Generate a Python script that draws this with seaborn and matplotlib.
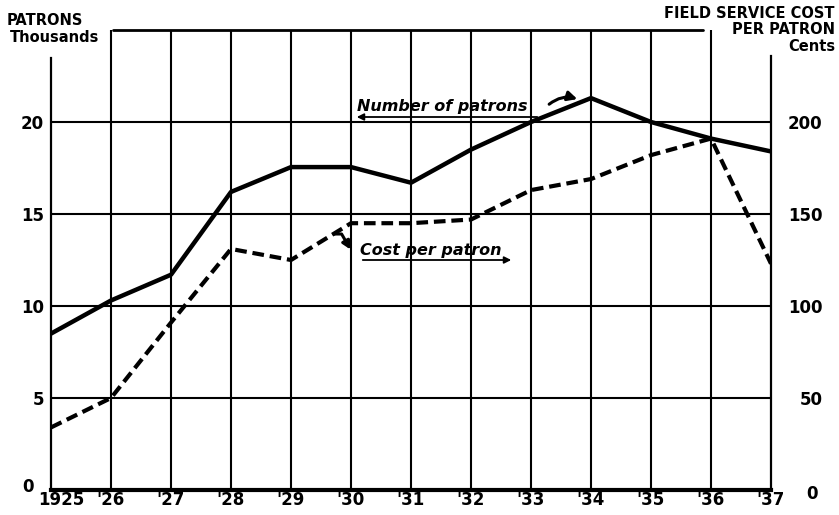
import matplotlib
matplotlib.use('Agg')
import matplotlib.pyplot as plt
import matplotlib.transforms as mtrans
import seaborn as sns
import pandas as pd

years = list(range(1925, 1938))
year_labels = ['1925', "'26", "'27", "'28", "'29", "'30", "'31", "'32", "'33", "'34", "'35", "'36", "'37"]
patrons = [8.5, 10.3, 11.7, 16.2, 17.55, 17.55, 16.7, 18.5, 20.0, 21.3, 20.0, 19.1, 18.4]
cost_cents = [34, 50, 91, 131, 125, 145, 145, 147, 163, 169, 182, 191, 123]
left_ticks = [0, 5, 10, 15, 20]
right_ticks = [0, 50, 100, 150, 200]

df = pd.DataFrame({'year': years, 'patrons': patrons, 'cost': cost_cents})

sns.set_style('white', rc={'text.color': 'black', 'xtick.color': 'black',
                           'ytick.color': 'black', 'axes.labelcolor': 'black',
                           'axes.edgecolor': 'black'})
plt.rcParams['font.family'] = ['DejaVu Sans']

W, H = 839, 515
fig = plt.figure(figsize=(W / 100, H / 100), dpi=100)
ax = fig.add_axes([51 / W, 1 - 490 / H, 720 / W, 460 / H])
ax2 = ax.twinx()

def px(x, y):
    # pixel position -> data coords of the left axis
    return 1925 + (x - 51) / 60.0, (490 - y) / 18.4

ax.set_xlim(1925, 1937)
ax.set_ylim(0, 25)
ax2.set_ylim(0, 250)

# grid
for yr in years[1:-1]:
    ax.axvline(yr, color='black', lw=1.5, zorder=1)
for v in left_ticks[1:]:
    ax.axhline(v, color='black', lw=1.5, zorder=1)
x0, _ = px(113, 30)
x1, _ = px(703, 30)
ax.plot([x0, x1], [25, 25], color='black', lw=2, clip_on=False, zorder=1)

sns.lineplot(data=df, x='year', y='patrons', ax=ax, color='black', lw=3.2, zorder=3)
sns.lineplot(data=df, x='year', y='cost', ax=ax2, color='black', lw=3.0,
             linestyle=(0, (2.8, 1.4)), zorder=3)

for a in (ax, ax2):
    a.set_xlabel('')
    a.set_ylabel('')
    for s in a.spines.values():
        s.set_visible(False)

ax.spines['left'].set_visible(True)
ax.spines['left'].set_bounds(0, 23.5)
ax.spines['left'].set_linewidth(1.6)
ax.spines['bottom'].set_visible(True)
ax.spines['bottom'].set_linewidth(3)
ax2.spines['right'].set_visible(True)
ax2.spines['right'].set_bounds(0, 236)
ax2.spines['right'].set_linewidth(1.6)

tick_font = dict(fontsize=12, fontweight='bold')
ax.set_xticks(years)
ax.set_xticklabels(year_labels, **tick_font)
ax.set_yticks(left_ticks)
ax.set_yticklabels([str(v) for v in left_ticks], **tick_font)
ax2.set_yticks(right_ticks)
ax2.set_yticklabels([str(v) for v in right_ticks], **tick_font)
ax.tick_params(axis='both', length=0)
ax.tick_params(axis='x', pad=1)
ax.tick_params(axis='y', pad=5)
ax2.tick_params(axis='y', length=0, pad=37)
for lab in ax2.get_yticklabels():
    lab.set_horizontalalignment('right')

def shift(lab, dx, dy):
    lab.set_transform(lab.get_transform() + mtrans.ScaledTranslation(dx / 100, dy / 100, fig.dpi_scale_trans))

shift(ax.get_xticklabels()[0], 10, 0)
shift(ax.get_yticklabels()[0], -10, 5)
shift(ax2.get_yticklabels()[0], -5, -2)

# axis titles
hdr = dict(fontsize=10.5, fontweight='bold')
fig.text(7 / W, 1 - 13 / H, 'PATRONS', ha='left', va='top', **hdr)
fig.text(10 / W, 1 - 30 / H, 'Thousands', ha='left', va='top', **hdr)
fig.text(835 / W, 1 - 6 / H, 'FIELD SERVICE COST', ha='right', va='top', **hdr)
fig.text(835 / W, 1 - 22 / H, 'PER PATRON', ha='right', va='top', **hdr)
fig.text(835 / W, 1 - 39 / H, 'Cents', ha='right', va='top', **hdr)

# annotations
ann = dict(fontsize=11.5, fontweight='bold', style='italic')
tx, ty = px(357, 111)
ax.text(tx, ty, 'Number of patrons', ha='left', va='baseline', zorder=4, **ann)
ua, uy = px(540, 117)
ub, _ = px(354, 117)
ax.annotate('', xy=(ub, uy), xytext=(ua, uy),
            arrowprops=dict(arrowstyle='-|>', lw=1.3, color='black', mutation_scale=10))
ax.annotate('', xy=px(580, 100), xytext=px(547, 106),
            arrowprops=dict(arrowstyle='-|>', lw=2.2, color='black', mutation_scale=14,
                            connectionstyle='arc3,rad=-0.3'))

tx, ty = px(360, 255)
ax.text(tx, ty, 'Cost per patron', ha='left', va='baseline', zorder=4, **ann)
ua, uy = px(360, 260)
ub, _ = px(514, 260)
ax.annotate('', xy=(ub, uy), xytext=(ua, uy),
            arrowprops=dict(arrowstyle='-|>', lw=1.3, color='black', mutation_scale=10))
ax.annotate('', xy=px(352, 252), xytext=px(331, 234),
            arrowprops=dict(arrowstyle='-|>', lw=2.2, color='black', mutation_scale=12,
                            connectionstyle='angle,angleA=0,angleB=-60,rad=0'))

fig.savefig('out.png', dpi=100)
